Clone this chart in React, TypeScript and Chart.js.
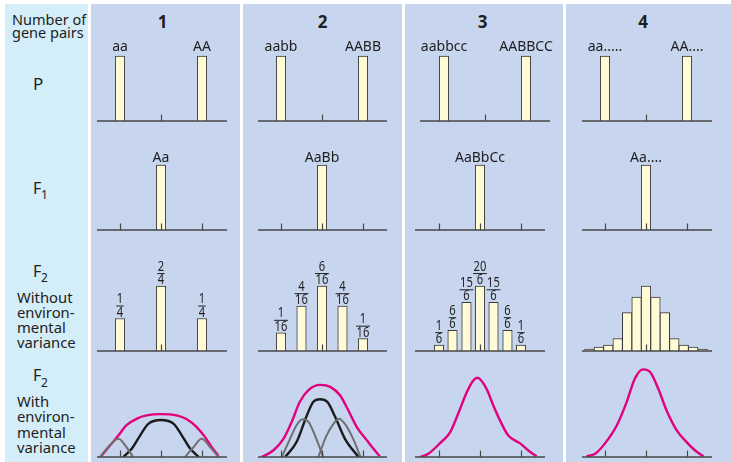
import React, { useEffect, useRef } from "react";
import { Chart, registerables } from "chart.js";
Chart.register(...registerables);

// ---------------- data ----------------
const COLUMN_TITLES = ["1", "2", "3", "4"];

// P generation (parents)
const P_POSITIONS = [-1, 1];
const P_HEIGHTS = [100, 100];
const P_LABELS = [
  ["aa", "AA"],
  ["aabb", "AABB"],
  ["aabbcc", "AABBCC"],
  ["aa.....", "AA...."],
];

// F1 generation
const F1_POSITIONS = [0];
const F1_HEIGHTS = [100];
const F1_LABELS = ["Aa", "AaBb", "AaBbCc", "Aa...."];

// F2 without environmental variance
const F2_POS_1 = [-1, 0, 1];
const F2_H_1 = [50, 100, 50];
const F2_NUM_1 = ["1", "2", "1"];
const F2_DEN_1 = ["4", "4", "4"];

const F2_POS_2 = [-1, -0.5, 0, 0.5, 1];
const F2_H_2 = [28, 69, 100, 69, 19];
const F2_NUM_2 = ["1", "4", "6", "4", "1"];
const F2_DEN_2 = ["16", "16", "16", "16", "16"];

const F2_POS_3 = [-1, -0.67, -0.33, 0, 0.33, 0.67, 1];
const F2_H_3 = [9, 32, 75, 100, 75, 32, 9];
const F2_NUM_3 = ["1", "6", "15", "20", "15", "6", "1"];
const F2_DEN_3 = ["6", "6", "6", "6", "6", "6", "6"];

const F2_POS_4 = [-1.38, -1.15, -0.92, -0.69, -0.46, -0.23, 0, 0.23, 0.46, 0.69, 0.92, 1.15, 1.38];
const F2_H_4 = [3, 6, 9, 19, 59, 83, 100, 83, 59, 19, 9, 6, 3];

// F2 with environmental variance (curves)
const ENV1_PINK_X = [-1.45, -1.24, -1.04, -0.84, -0.59, -0.35, 0, 0.38, 0.63, 0.87, 1.07, 1.24, 1.4];
const ENV1_PINK_Y = [2, 18, 33, 49, 59, 64, 66, 64, 58, 46, 31, 15, 2];
const ENV1_BLACK_X = [-0.92, -0.71, -0.51, -0.31, 0, 0.31, 0.51, 0.71, 0.92];
const ENV1_BLACK_Y = [0, 13, 33, 51, 57, 51, 33, 13, 0];
const ENV1_GRAYL_X = [-1.49, -1.29, -1.04, -0.84, -0.68];
const ENV1_GRAYL_Y = [0, 15, 28, 15, 0];
const ENV1_GRAYR_X = [0.59, 0.79, 0.99, 1.2, 1.4];
const ENV1_GRAYR_Y = [0, 15, 28, 15, 0];

const ENV2_PINK_X = [-1.47, -1.19, -0.94, -0.74, -0.54, -0.33, -0.05, 0.2, 0.44, 0.64, 0.85, 1.09, 1.25, 1.41];
const ENV2_PINK_Y = [0, 10, 28, 54, 85, 103, 111, 108, 95, 72, 46, 26, 13, 1];
const ENV2_BLACK_X = [-0.9, -0.62, -0.37, -0.21, -0.05, 0.13, 0.32, 0.56, 0.89];
const ENV2_BLACK_Y = [0, 23, 64, 85, 89, 85, 62, 28, 0];
const ENV2_GRAYL_X = [-0.98, -0.78, -0.62, -0.47, -0.33, -0.17, 0.03];
const ENV2_GRAYL_Y = [0, 28, 49, 58, 54, 33, 0];
const ENV2_GRAYR_X = [-0.09, 0.11, 0.28, 0.41, 0.56, 0.76, 0.94];
const ENV2_GRAYR_Y = [0, 33, 51, 59, 51, 28, 0];

const ENV3_PINK_X = [-1.46, -1.26, -0.98, -0.73, -0.53, -0.32, -0.16, -0.06, 0.16, 0.32, 0.49, 0.69, 0.98, 1.18, 1.38];
const ENV3_PINK_Y = [0, 5, 21, 38, 67, 100, 118, 122, 105, 80, 56, 33, 21, 10, 1];

const ENV4_PINK_X = [-1.45, -1.24, -1.0, -0.71, -0.47, -0.27, -0.07, 0.1, 0.3, 0.5, 0.75, 0.99, 1.2, 1.4];
const ENV4_PINK_Y = [1, 5, 21, 49, 85, 121, 135, 131, 105, 72, 41, 23, 10, 1];

// ---------------- styles / layout ----------------
const FONT = "'Noto Sans', 'DejaVu Sans', sans-serif";
const TEXT_COLOR = "#1e1e1e";
const AXIS_COLOR = "#474747";
const BAR_FILL = "#fffbd6";
const BAR_BORDER = "#3a3a3a";
const PINK = "#e3007d";
const BLACK = "#1b1b1b";
const GRAY = "#6f6f6f";
const COL_BG = "#c7d6ee";
const LEFT_BG = "#d3edf9";

const UNIT = 41; // px per genotype step
const Y_MAX = 154;
const FRAC_SQUEEZE = 0.8;
const COLS = [
  { left: 91, right: 240, center: 161, axisL: 97, axisR: 227 },
  { left: 243, right: 402, center: 322, axisL: 258, axisR: 387 },
  { left: 405, right: 563, center: 480, axisL: 415, axisR: 545 },
  { left: 566, right: 731, center: 646, axisL: 582, axisR: 712 },
];
const ROW_AXIS = [121, 230, 351, 457];

const decorPlugin = {
  id: "decor",
  afterDatasetsDraw(chart: any, _args: any, opts: any) {
    const { ctx, chartArea } = chart;
    const xs = chart.scales.x;
    const ys = chart.scales.y;
    const y0 = ys.getPixelForValue(0);
    ctx.save();
    ctx.strokeStyle = AXIS_COLOR;
    ctx.lineWidth = 1.6;
    ctx.beginPath();
    ctx.moveTo(chartArea.left, y0);
    ctx.lineTo(chartArea.right, y0);
    ctx.stroke();
    ctx.lineWidth = 1.2;
    (opts.ticks || []).forEach((t: number) => {
      const px = Math.round(xs.getPixelForValue(t)) + 0.5;
      ctx.beginPath();
      ctx.moveTo(px, y0);
      ctx.lineTo(px, y0 - 6.5);
      ctx.stroke();
    });
    ctx.fillStyle = TEXT_COLOR;
    ctx.strokeStyle = TEXT_COLOR;
    ctx.textAlign = "center";
    ctx.textBaseline = "alphabetic";
    const meta = chart.getDatasetMeta(0);
    if (opts.labels) {
      ctx.font = `14px ${FONT}`;
      meta.data.forEach((el: any, i: number) => {
        const s = opts.labels[i];
        if (s) ctx.fillText(s, el.x, el.y - opts.labelGap);
      });
    }
    if (opts.num) {
      ctx.font = `14px ${FONT}`;
      ctx.lineWidth = 1;
      meta.data.forEach((el: any, i: number) => {
        const n = opts.num[i];
        const d = opts.den[i];
        const w = Math.max(ctx.measureText(n).width, ctx.measureText(d).width) * FRAC_SQUEEZE;
        ctx.save();
        ctx.translate(el.x, 0);
        ctx.scale(FRAC_SQUEEZE, 1);
        ctx.fillText(d, 0, el.y - 2);
        ctx.fillText(n, 0, el.y - 15.5);
        ctx.restore();
        ctx.beginPath();
        ctx.moveTo(el.x - w / 2 - 0.5, el.y - 12.5);
        ctx.lineTo(el.x + w / 2 + 0.5, el.y - 12.5);
        ctx.stroke();
      });
    }
    ctx.restore();
  },
};

type Geo = { left: number; right: number; center: number; axisL: number; axisR: number };

function baseOptions(geo: Geo, decor: any) {
  return {
    animation: false,
    responsive: false,
    maintainAspectRatio: false,
    events: [],
    layout: {
      padding: { left: geo.axisL - geo.left, right: geo.right - geo.axisR, top: 4, bottom: 6 },
    },
    scales: {
      x: {
        type: "linear",
        display: false,
        offset: false,
        min: (geo.axisL - geo.center) / UNIT,
        max: (geo.axisR - geo.center) / UNIT,
      },
      y: { type: "linear", display: false, min: 0, max: Y_MAX },
    },
    plugins: { legend: { display: false }, tooltip: { enabled: false }, decor },
  };
}

function barConfig(geo: Geo, pos: number[], h: number[], thickness: number, decor: any) {
  return {
    type: "bar",
    data: {
      datasets: [
        {
          data: pos.map((x, i) => ({ x, y: h[i] })),
          backgroundColor: BAR_FILL,
          borderColor: BAR_BORDER,
          borderWidth: 1,
          barThickness: thickness,
        },
      ],
    },
    options: baseOptions(geo, decor),
    plugins: [decorPlugin],
  };
}

function lineConfig(geo: Geo, series: { x: number[]; y: number[]; color: string; width: number }[]) {
  return {
    type: "line",
    data: {
      datasets: series.map((s) => ({
        data: s.x.map((x, i) => ({ x, y: s.y[i] })),
        borderColor: s.color,
        borderWidth: s.width,
        pointRadius: 0,
        fill: false,
        cubicInterpolationMode: "monotone",
      })),
    },
    options: baseOptions(geo, { ticks: [-1, 0, 1] }),
    plugins: [decorPlugin],
  };
}

function Cell({ geo, axis, config }: { geo: Geo; axis: number; config: any }) {
  const ref = useRef<HTMLCanvasElement>(null);
  const width = geo.right - geo.left;
  const height = 110;
  useEffect(() => {
    const chart = new Chart(ref.current as HTMLCanvasElement, config);
    return () => chart.destroy();
  }, []);
  return (
    <canvas
      ref={ref}
      width={width}
      height={height}
      style={{ position: "absolute", left: geo.left, top: axis - 104, width, height }}
    />
  );
}

function Txt({ x, base, size, children, bold, center }: any) {
  return (
    <div
      style={{
        position: "absolute",
        left: x,
        top: base - 0.888 * size,
        fontSize: size,
        lineHeight: `${size}px`,
        fontFamily: FONT,
        fontWeight: bold ? 700 : 400,
        color: TEXT_COLOR,
        whiteSpace: "nowrap",
        transform: center ? "translateX(-50%)" : undefined,
      }}
    >
      {children}
    </div>
  );
}

export default function App() {
  const pGeo = COLS.map((c, i) => (i === 2 ? { ...c, center: 485, axisL: 420, axisR: 550 } : c));
  const f2Data = [
    { pos: F2_POS_1, h: F2_H_1, num: F2_NUM_1, den: F2_DEN_1 },
    { pos: F2_POS_2, h: F2_H_2, num: F2_NUM_2, den: F2_DEN_2 },
    { pos: F2_POS_3, h: F2_H_3, num: F2_NUM_3, den: F2_DEN_3 },
    { pos: F2_POS_4, h: F2_H_4, num: null, den: null },
  ];
  const envData = [
    [
      { x: ENV1_GRAYL_X, y: ENV1_GRAYL_Y, color: GRAY, width: 2 },
      { x: ENV1_GRAYR_X, y: ENV1_GRAYR_Y, color: GRAY, width: 2 },
      { x: ENV1_BLACK_X, y: ENV1_BLACK_Y, color: BLACK, width: 2.4 },
      { x: ENV1_PINK_X, y: ENV1_PINK_Y, color: PINK, width: 2.4 },
    ],
    [
      { x: ENV2_GRAYL_X, y: ENV2_GRAYL_Y, color: GRAY, width: 2 },
      { x: ENV2_GRAYR_X, y: ENV2_GRAYR_Y, color: GRAY, width: 2 },
      { x: ENV2_BLACK_X, y: ENV2_BLACK_Y, color: BLACK, width: 2.4 },
      { x: ENV2_PINK_X, y: ENV2_PINK_Y, color: PINK, width: 2.4 },
    ],
    [{ x: ENV3_PINK_X, y: ENV3_PINK_Y, color: PINK, width: 2.4 }],
    [{ x: ENV4_PINK_X, y: ENV4_PINK_Y, color: PINK, width: 2.4 }],
  ];

  return (
    <div
      style={{
        position: "fixed",
        left: 0,
        top: 0,
        width: 731,
        height: 462,
        overflow: "hidden",
        background: "#ffffff",
      }}
    >
      <div style={{ position: "absolute", left: 5, top: 4, width: 83, height: 458, background: LEFT_BG }} />
      {COLS.map((c, i) => (
        <div
          key={"bg" + i}
          style={{ position: "absolute", left: c.left, top: 4, width: c.right - c.left, height: 458, background: COL_BG }}
        />
      ))}

      {/* left column labels */}
      <Txt x={12} base={25} size={14.5}>Number of</Txt>
      <Txt x={12} base={38} size={14.5}>gene pairs</Txt>
      <Txt x={33} base={90} size={17}>P</Txt>
      <Txt x={33} base={194} size={16}>F</Txt>
      <Txt x={41} base={200} size={12}>1</Txt>
      <Txt x={33} base={277} size={16}>F</Txt>
      <Txt x={41} base={283} size={12}>2</Txt>
      <Txt x={17} base={303} size={14.8}>Without</Txt>
      <Txt x={17} base={318} size={14.8}>environ-</Txt>
      <Txt x={17} base={333} size={14.8}>mental</Txt>
      <Txt x={17} base={348} size={14.8}>variance</Txt>
      <Txt x={33} base={381.5} size={16}>F</Txt>
      <Txt x={41} base={388} size={12}>2</Txt>
      <Txt x={17} base={407} size={14.8}>With</Txt>
      <Txt x={17} base={422} size={14.8}>environ-</Txt>
      <Txt x={17} base={438} size={14.8}>mental</Txt>
      <Txt x={17} base={453} size={14.8}>variance</Txt>

      {/* column titles */}
      {COLUMN_TITLES.map((t, i) => (
        <Txt key={"t" + i} x={[162.5, 322.5, 482.5, 643][i]} base={28} size={17} bold center>
          {t}
        </Txt>
      ))}

      {/* P row */}
      {pGeo.map((g, i) => (
        <Cell
          key={"p" + i}
          geo={g}
          axis={ROW_AXIS[0]}
          config={barConfig(g, P_POSITIONS, P_HEIGHTS, 9.5, { ticks: [0], labels: P_LABELS[i], labelGap: 5.5 })}
        />
      ))}
      {/* F1 row */}
      {COLS.map((g, i) => (
        <Cell
          key={"f1" + i}
          geo={g}
          axis={ROW_AXIS[1]}
          config={barConfig(g, F1_POSITIONS, F1_HEIGHTS, 9.5, { ticks: [-1, 0, 1], labels: [F1_LABELS[i]], labelGap: 3.5 })}
        />
      ))}
      {/* F2 without variance */}
      {COLS.map((g, i) => (
        <Cell
          key={"f2" + i}
          geo={g}
          axis={ROW_AXIS[2]}
          config={barConfig(g, f2Data[i].pos, f2Data[i].h, i === 3 ? 9.6 : 9.5, {
            ticks: [0],
            num: f2Data[i].num,
            den: f2Data[i].den,
          })}
        />
      ))}
      {/* F2 with variance */}
      {COLS.map((g, i) => (
        <Cell key={"env" + i} geo={g} axis={ROW_AXIS[3]} config={lineConfig(g, envData[i])} />
      ))}
    </div>
  );
}
